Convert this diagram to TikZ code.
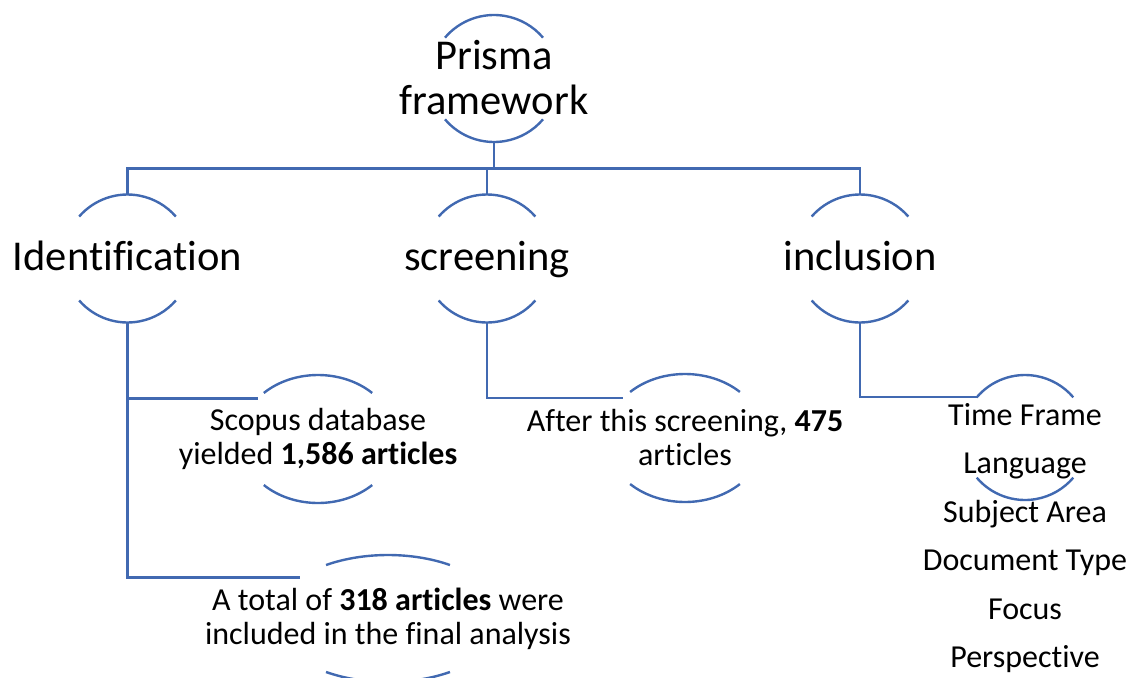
\documentclass[tikz,border=0pt]{standalone}
\usepackage{fontspec}
\setmainfont{Carlito}[Ligatures=CommonOff]
\usetikzlibrary{positioning,shapes.geometric}

\definecolor{linkblue}{RGB}{65,105,177}

% top and bottom arcs around a hub node
\newcommand{\ringarcs}[4]{%
  \draw[arcline] (#1.center) ++(180-#4:#2pt and #3pt) arc[start angle=180-#4, end angle=#4, x radius=#2pt, y radius=#3pt];
  \draw[arcline] (#1.center) ++(180+#4:#2pt and #3pt) arc[start angle=180+#4, end angle=360-#4, x radius=#2pt, y radius=#3pt];
}

\tikzset{
  hub/.style={ellipse, inner sep=0pt, outer sep=0pt, minimum width=128pt, minimum height=128pt},
  arcline/.style={draw=linkblue, line width=2.4pt},
  link/.style={draw=linkblue, line width=2.4pt},
  bigtext/.style={font=\fontsize{42.5}{45}\selectfont, align=center, inner sep=0pt},
  smalltext/.style={font=\fontsize{32}{34}\selectfont, align=center, inner sep=0pt}
}

\begin{document}
\begin{tikzpicture}[x=1pt, y=1pt, on grid]
  \useasboundingbox (0,0) rectangle (1131,-677);

  % Hubs
  \node[hub] (prisma) at (494,-78.5) {};
  \node[hub] (screen) at (487,-258.5) {};
  \node[hub, left=359.5pt of screen] (idf) {};
  \node[hub, right=373pt of screen] (incl) {};

  % Result hubs
  \node[hub, minimum width=156pt, below right=180.5pt and 190.5pt of idf] (scopus) {};
  \node[hub, minimum width=230pt, below right=360pt and 260.5pt of idf] (final) {};
  \node[hub, minimum width=158pt, below right=179.5pt and 198pt of screen] (scr-res) {};
  \node[hub, minimum width=126pt, minimum height=125pt, below right=179pt and 165pt of incl] (incl-res) {};

  % Arcs
  \ringarcs{prisma}{64}{63.5}{40}
  \ringarcs{idf}{64}{64}{41}
  \ringarcs{screen}{64}{64}{41}
  \ringarcs{incl}{64}{64}{41}
  \ringarcs{scopus}{78}{64}{46}
  \ringarcs{scr-res}{79}{64}{46}
  \ringarcs{final}{115}{63.5}{57.4}
  \ringarcs{incl-res}{63}{62.5}{40}

  % Texts
  \node[bigtext, yshift=1pt] (prisma-t) at (prisma) {Prisma\\framework};
  \node[bigtext, text height=23pt, text depth=0pt] (idf-t) at (idf) {Identification};
  \node[bigtext, text height=23pt, text depth=0pt] (screen-t) at (screen) {screening};
  \node[bigtext, text height=23pt, text depth=0pt] (incl-t) at (incl) {inclusion};
  \node[smalltext] (scopus-t) at (scopus) {Scopus database\\yielded \textbf{1,586 articles}};
  \node[smalltext] (scr-res-t) at (scr-res) {After this screening, \textbf{475}\\articles};
  \node[smalltext] (final-t) at (final) {A total of \textbf{318 articles} were\\included in the final analysis};
  \node[smalltext, font=\fontsize{32}{48.4}\selectfont, below=100.5pt of incl-res] (criteria)
    {Time Frame\\Language\\Subject Area\\Document Type\\Focus\\Perspective};

  % Connectors
  \draw[link] (prisma.south) -- ++(0,-26) -| (idf.north);
  \draw[link] (prisma.south) -- ++(0,-26) -| (screen.north);
  \draw[link] (prisma.south) -- ++(0,-26) -| (incl.north);
  \draw[link] (idf.south) |- (scopus.146);
  \draw[link] (idf.south) |- (final.155);
  \draw[link] (screen.south) |- (scr-res.147);
  \draw[link] (incl.south) |- (incl-res.140);
\end{tikzpicture}
\end{document}
